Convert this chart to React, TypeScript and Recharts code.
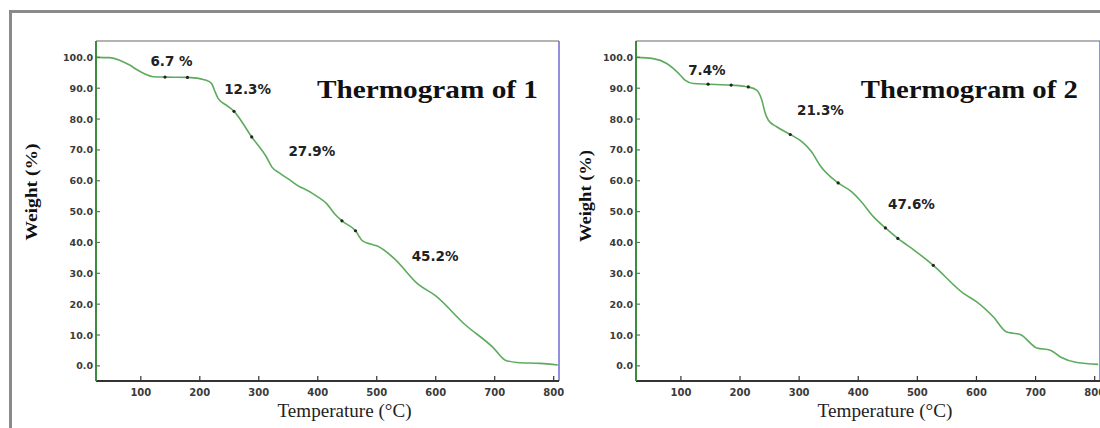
import React from 'react';
import { ComposedChart, Line, Scatter, XAxis, YAxis, ReferenceLine, ReferenceDot } from 'recharts';

// ---------- data ----------
const xTicks = [100, 200, 300, 400, 500, 600, 700, 800];
const yTicks = [0, 10, 20, 30, 40, 50, 60, 70, 80, 90, 100];
const xDomain: [number, number] = [24, 809];
const yDomain: [number, number] = [-4.9, 105.3];

const temp1 = [25, 47, 64, 81, 95, 107, 121, 141, 179, 211, 220, 226, 231, 245, 258, 288, 313, 322, 336, 353, 370, 376, 400, 415, 428, 441, 464, 476, 491, 500, 528, 570, 600, 649, 697, 718, 738, 777, 807];
const weight1 = [100.0, 99.9, 99.1, 97.5, 95.8, 94.6, 93.7, 93.6, 93.5, 92.6, 91.5, 88.8, 86.7, 84.5, 82.5, 74.2, 67.7, 64.5, 62.4, 60.2, 58.0, 57.5, 54.8, 52.6, 49.4, 47.0, 43.8, 40.5, 39.4, 38.9, 35.1, 26.5, 22.7, 13.5, 6.0, 1.85, 1.1, 0.8, 0.3];

const temp2 = [25, 53, 76, 87, 99, 107, 121, 146, 185, 214, 228, 237, 242, 248, 262, 285, 305, 321, 336, 366, 389, 403, 426, 446, 467, 496, 527, 578, 601, 628, 651, 662, 674, 702, 725, 742, 770, 806];
const weight2 = [100.0, 99.6, 98.0, 96.4, 94.2, 92.6, 91.5, 91.3, 91.0, 90.4, 89.4, 86.1, 82.3, 79.6, 77.5, 75.0, 72.6, 69.4, 64.8, 59.3, 56.4, 53.7, 48.3, 44.7, 41.3, 37.3, 32.6, 23.5, 20.7, 16.0, 11.0, 10.6, 10.2, 5.8, 5.1, 2.9, 1.1, 0.5];

const markerTemp1 = [141, 179, 258, 288, 441, 464];
const markerWeight1 = [93.6, 93.5, 82.5, 74.2, 47.0, 43.8];
const markerTemp2 = [146, 185, 214, 285, 366, 446, 467, 527];
const markerWeight2 = [91.3, 91.0, 90.4, 75.0, 59.3, 44.7, 41.3, 32.6];

const annText1 = ['6.7 %', '12.3%', '27.9%', '45.2%'];
const annTemp1 = [152, 281, 390, 599];
const annWeight1 = [98.9, 89.9, 69.6, 35.7];
const annText2 = ['7.4%', '21.3%', '47.6%'];
const annTemp2 = [144, 336, 490];
const annWeight2 = [95.8, 82.9, 52.6];

const titles = ['Thermogram of 1', 'Thermogram of 2'];
const titleTemp = [586, 588];
const titleWeight = [86.8, 86.8];

const xLabel = 'Temperature (°C)';
const yLabel = 'Weight (%)';

// ---------- helpers ----------
const zip = (t: number[], w: number[]) => t.map((v, i) => ({ t: v, w: w[i] }));

const XTick = (props: any) => {
  const { x, y, payload } = props;
  return (
    <g>
      <line x1={x} x2={x} y1={y - 11} y2={y - 16} stroke="#333" strokeWidth={1.2} />
      <text x={x} y={y + 3.5} textAnchor="middle" fontSize={10} fontWeight="bold" fill="#3a3a3a" fontFamily="DejaVu Sans">
        {payload.value}
      </text>
    </g>
  );
};

const YTick = (props: any) => {
  const { x, y, payload } = props;
  return (
    <g>
      <line x1={x + 3} x2={x + 7} y1={y} y2={y} stroke="#557755" strokeWidth={1.2} />
      <text x={x} y={y + 3.5} textAnchor="end" fontSize={9.5} fontWeight="bold" fill="#3a3a3a" fontFamily="DejaVu Sans">
        {Number(payload.value).toFixed(1)}
      </text>
    </g>
  );
};

const annotationContent = (text: string) => (props: any) => {
  const vb = props.viewBox || {};
  const cx = vb.x + (vb.width || 0) / 2;
  const cy = vb.y + (vb.height || 0) / 2;
  return (
    <text x={cx} y={cy} textAnchor="middle" dominantBaseline="central" fontSize={13.5} fontWeight="bold" fill="#222" fontFamily="DejaVu Sans">
      {text}
    </text>
  );
};

const titleContent = (text: string, len: number) => (props: any) => {
  const vb = props.viewBox || {};
  const cx = vb.x + (vb.width || 0) / 2;
  const cy = vb.y + (vb.height || 0) / 2;
  return (
    <text x={cx} y={cy} textAnchor="middle" fontSize={26} fontWeight="bold" fill="#111" fontFamily="Liberation Serif" textLength={len} lengthAdjust="spacingAndGlyphs">
      {text}
    </text>
  );
};

const xLabelContent = (len: number) => (props: any) => {
  const vb = props.viewBox || {};
  const cx = vb.x + vb.width / 2 + 17;
  const cy = vb.y + 36;
  return (
    <text x={cx} y={cy} textAnchor="middle" fontSize={18} fill="#222" fontFamily="Liberation Serif" textLength={len} lengthAdjust="spacingAndGlyphs">
      {xLabel}
    </text>
  );
};

const yLabelContent = (dx: number, dy: number, len: number) => (props: any) => {
  const vb = props.viewBox || {};
  const cx = vb.x + vb.width - dx;
  const cy = vb.y + vb.height / 2 + dy;
  return (
    <text x={cx} y={cy} textAnchor="middle" dominantBaseline="central" fontSize={16} fontWeight="bold" fill="#111" fontFamily="Liberation Serif" transform={`rotate(-90, ${cx}, ${cy})`} textLength={len} lengthAdjust="spacingAndGlyphs">
      {yLabel}
    </text>
  );
};

const MarkerShape = (props: any) => <circle cx={props.cx} cy={props.cy} r={1.6} fill="#222" />;

type PanelProps = {
  width: number;
  margin: { top: number; right: number; bottom: number; left: number };
  curve: { t: number; w: number }[];
  markers: { t: number; w: number }[];
  annText: string[];
  annTemp: number[];
  annWeight: number[];
  title: string;
  tT: number;
  tW: number;
  titleLen: number;
  yLabelDx: number;
  yLabelDy: number;
  yLabelLen: number;
  xLabelLen: number;
};

const Panel = (p: PanelProps) => (
  <ComposedChart width={p.width} height={428} margin={p.margin}>
    <XAxis
      type="number"
      dataKey="t"
      domain={xDomain}
      ticks={xTicks}
      allowDataOverflow
      height={30}
      tickSize={0}
      tickMargin={11}
      tickLine={false}
      axisLine={{ stroke: '#333', strokeWidth: 2 }}
      tick={<XTick />}
      label={{ content: xLabelContent(p.xLabelLen) } as any}
    />
    <YAxis
      type="number"
      dataKey="w"
      domain={yDomain}
      ticks={yTicks}
      allowDataOverflow
      width={40}
      tickSize={0}
      tickMargin={3}
      tickLine={false}
      axisLine={{ stroke: '#3d8b3d', strokeWidth: 2 }}
      tick={<YTick />}
      label={{ content: yLabelContent(p.yLabelDx, p.yLabelDy, p.yLabelLen) } as any}
    />
    <ReferenceLine y={yDomain[1]} stroke="#9a9a9a" strokeWidth={1.5} ifOverflow="visible" />
    <ReferenceLine x={xDomain[1]} stroke="#6b6bd0" strokeWidth={1.5} ifOverflow="visible" />
    <Line
      data={p.curve}
      dataKey="w"
      type="monotone"
      stroke="#5dab5d"
      strokeWidth={1.6}
      dot={false}
      activeDot={false}
      isAnimationActive={false}
    />
    <Scatter data={p.markers} dataKey="w" shape={<MarkerShape />} isAnimationActive={false} />
    {p.annText.map((txt, i) => (
      <ReferenceDot
        key={txt}
        x={p.annTemp[i]}
        y={p.annWeight[i]}
        r={1}
        fill="none"
        stroke="none"
        label={{ content: annotationContent(txt) } as any}
      />
    ))}
    <ReferenceDot x={p.tT} y={p.tW} r={1} fill="none" stroke="none" label={{ content: titleContent(p.title, p.titleLen) } as any} />
  </ComposedChart>
);

export default function App() {
  return (
    <div style={{ position: 'absolute', left: 0, top: 0, width: 1100, height: 428, overflow: 'hidden', background: '#fff' }}>
      <div
        style={{
          position: 'absolute',
          left: 9,
          top: 10,
          width: 1200,
          height: 600,
          borderTop: '3px solid #8a8a8a',
          borderLeft: '3px solid #8a8a8a',
        }}
      />
      <div style={{ position: 'absolute', left: 0, top: 0 }}>
        <Panel
          width={600}
          margin={{ top: 41, right: 41, bottom: 17, left: 56 }}
          curve={zip(temp1, weight1)}
          markers={zip(markerTemp1, markerWeight1)}
          annText={annText1}
          annTemp={annTemp1}
          annWeight={annWeight1}
          title={titles[0]}
          tT={titleTemp[0]}
          tW={titleWeight[0]}
          titleLen={221}
          yLabelDx={65}
          yLabelDy={-19}
          yLabelLen={97}
          xLabelLen={134}
        />
      </div>
      <div style={{ position: 'absolute', left: 560, top: 0 }}>
        <Panel
          width={560}
          margin={{ top: 41, right: 20, bottom: 17, left: 36 }}
          curve={zip(temp2, weight2)}
          markers={zip(markerTemp2, markerWeight2)}
          annText={annText2}
          annTemp={annTemp2}
          annWeight={annWeight2}
          title={titles[1]}
          tT={titleTemp[1]}
          tW={titleWeight[1]}
          titleLen={217}
          yLabelDx={51}
          yLabelDy={-15}
          yLabelLen={92}
          xLabelLen={135}
        />
      </div>
    </div>
  );
}
